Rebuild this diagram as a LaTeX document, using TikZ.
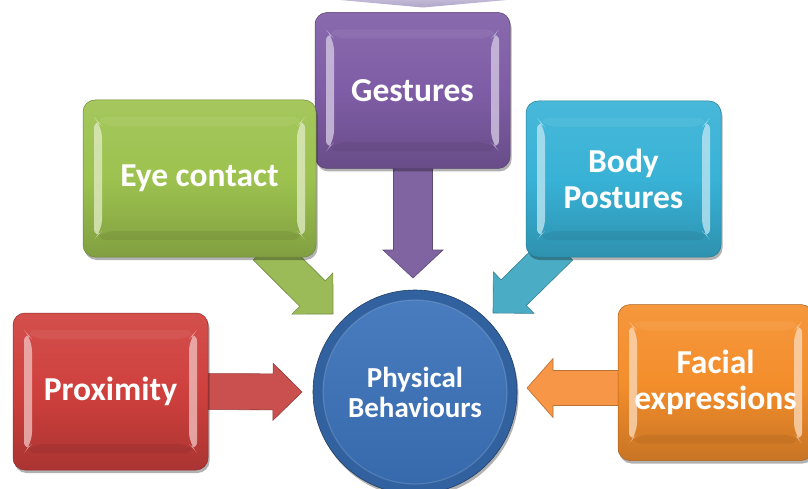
\documentclass[tikz,border=0pt]{standalone}
\usepackage{fontspec}
\setmainfont{Carlito}
\usetikzlibrary{calc,shadows,backgrounds}
\definecolor{cred}{HTML}{CF403D}
\definecolor{cgreen}{HTML}{9DC24F}
\definecolor{cpurple}{HTML}{7F5DA6}
\definecolor{cteal}{HTML}{38B2D6}
\definecolor{corange}{HTML}{F48E2C}
\definecolor{cblue}{HTML}{3A72BA}
\definecolor{ctop}{HTML}{B0A6CA}
\definecolor{ared}{HTML}{C9504E}
\definecolor{agreen}{HTML}{9BBB59}
\definecolor{apurple}{HTML}{8064A2}
\definecolor{ateal}{HTML}{4BACC6}
\definecolor{aorange}{HTML}{F79646}

% bevel decoration drawn inside a box (used as path picture)
\newcommand\bevelpp[1]{%
  \fill[#1!35!white, opacity=0.8]
    ($(path picture bounding box.north west)+(11,-17)$) --
    ($(path picture bounding box.north west)+(19,-26)$) --
    ($(path picture bounding box.south west)+(19,26)$) --
    ($(path picture bounding box.south west)+(11,17)$) -- cycle;
  \fill[#1!35!white, opacity=0.8]
    ($(path picture bounding box.north east)+(-11,-17)$) --
    ($(path picture bounding box.north east)+(-19,-26)$) --
    ($(path picture bounding box.south east)+(-19,26)$) --
    ($(path picture bounding box.south east)+(-11,17)$) -- cycle;
  \fill[#1!60!black, opacity=0.2]
    ($(path picture bounding box.south west)+(11,17)$) --
    ($(path picture bounding box.south east)+(-11,17)$) --
    ($(path picture bounding box.south east)+(-19,26)$) --
    ($(path picture bounding box.south west)+(19,26)$) -- cycle;
  \fill[white, opacity=0.06]
    ($(path picture bounding box.north west)+(11,-17)$) --
    ($(path picture bounding box.north east)+(-11,-17)$) --
    ($(path picture bounding box.north east)+(-19,-26)$) --
    ($(path picture bounding box.north west)+(19,-26)$) -- cycle;
}

% fat block arrow from #1 to tip #2: shaft half #3, head half #4, head length #5, colour #6
\newcommand\fatarrow[6]{%
  \path ($(#2)!#5!(#1)$) coordinate (fh);
  \filldraw[fill=#6, draw=#6!75!black, line width=0.6pt, line join=miter]
    ($(#1)!#3!90:(#2)$) -- ($(fh)!#3!-90:(#1)$) -- ($(fh)!#4!-90:(#1)$) --
    (#2) -- ($(fh)!#4!90:(#1)$) -- ($(fh)!#3!90:(#1)$) --
    ($(#1)!#3!-90:(#2)$) -- cycle;
}

\tikzset{
  boxbase/.style={rounded corners=12pt, minimum width=195pt, minimum height=156pt,
    inner sep=0pt, align=center, text=white,
    font=\fontsize{33.5}{36}\selectfont\bfseries,
    draw=#1!70!black, line width=0.5pt,
    top color=#1!92!white, bottom color=#1!82!black, middle color=#1,
    drop shadow={shadow xshift=1.5pt, shadow yshift=-3pt, opacity=0.3, fill=black},
    path picture={\bevelpp{#1}}},
  circbase/.style={circle, minimum size=204pt, inner sep=0pt, align=center,
    text=white, font=\fontsize{29}{30}\selectfont\bfseries,
    fill=cblue!85!black, draw=cblue!55!black, line width=0.6pt,
    drop shadow={shadow xshift=1.5pt, shadow yshift=-3pt, opacity=0.3, fill=black},
    path picture={
      \shade[top color=cblue!92!white, bottom color=cblue!92!black]
        (path picture bounding box.center) circle (92pt);
      \draw[white, opacity=0.15, line width=1.2pt]
        (path picture bounding box.center) circle (92pt);
    }},
}

\begin{document}
\begin{tikzpicture}[x=1pt,y=1pt]
\useasboundingbox (0,0) rectangle (808,488);
\clip (0,0) rectangle (808,488);

% partially visible shape at the top
\shade[top color=ctop!80!white, bottom color=ctop] (340,488) -- (507,488) -- (423,480.5) -- cycle;

\node[boxbase=cpurple] (gest) at (412.5,397.5) {Gestures};
\node[boxbase=cgreen, minimum width=233pt, minimum height=157pt] (eye) at (199.5,309.5) {Eye contact};
\node[boxbase=cteal] (body) at (623.5,309) {Body\\Postures};
\node[boxbase=cred, minimum height=157pt] (prox) at (110.5,96.5) {Proximity};
\node[boxbase=corange] (face) at (715.5,105.5) {Facial\\expressions};
\node[circbase] (circ) at (415,96) {Physical\\Behaviours};

\begin{pgfonlayer}{background}
  \fill[white] (0,0) rectangle (808,488);
  \coordinate (tprox) at (302,96);
  \coordinate (tface) at (527,100);
  \coordinate (tgest) at (413,210);
  \coordinate (teye) at (333,174);
  \coordinate (tbody) at (493,175);
  \coordinate (sprox) at ($(prox.east)+(-10,0)$);
  \coordinate (sface) at ($(face.west)+(10,-5.5)$);
  \coordinate (sgest) at ($(gest.south)+(0.5,10)$);
  \coordinate (seye) at ($(eye.south)+(66.5,10)$);
  \coordinate (sbody) at ($(body.south)+(-63.5,10)$);
  \fatarrow{sprox}{tprox}{18pt}{28.5pt}{29pt}{ared}
  \fatarrow{sface}{tface}{17.5pt}{29.5pt}{26pt}{aorange}
  \fatarrow{sgest}{tgest}{19.5pt}{30pt}{28pt}{apurple}
  \fatarrow{seye}{teye}{18pt}{29pt}{29pt}{agreen}
  \fatarrow{sbody}{tbody}{18pt}{29pt}{29pt}{ateal}
\end{pgfonlayer}
\end{tikzpicture}
\end{document}
